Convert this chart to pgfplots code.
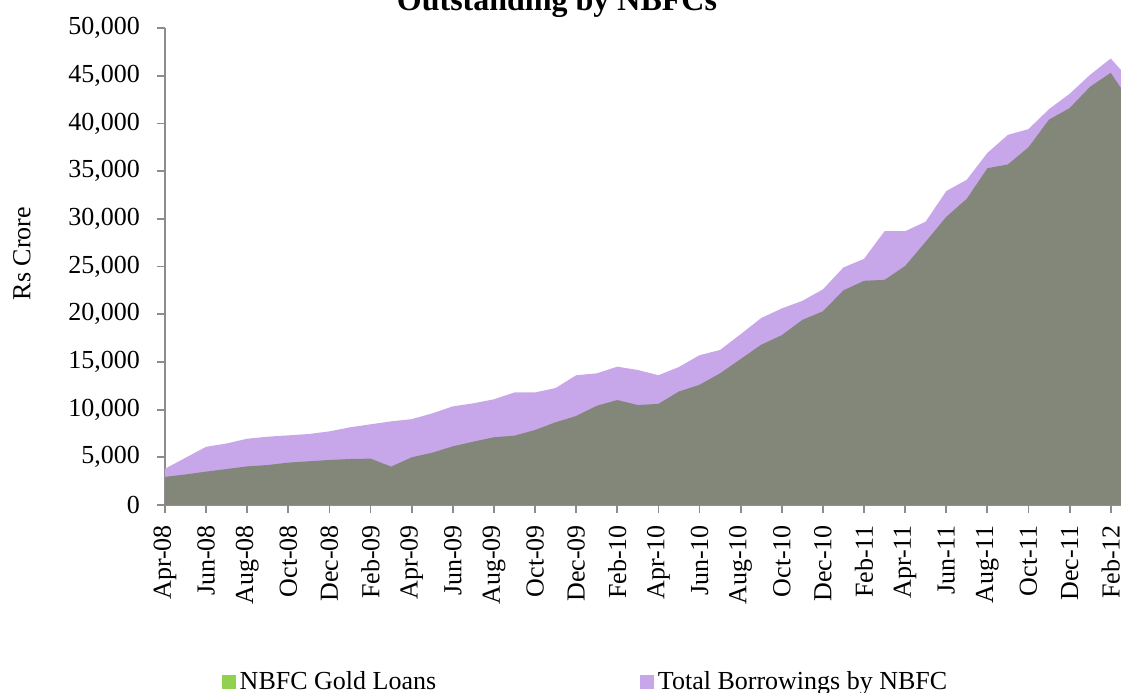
\documentclass[border=0pt]{standalone}
\usepackage{fontspec}
\setmainfont{Liberation Serif}
\usepackage{pgfplots}
\pgfplotsset{compat=1.18}
\definecolor{borrowpurple}{HTML}{C8A6EA}
\definecolor{goldgray}{HTML}{828779}
\definecolor{goldgreen}{HTML}{92D050}
\definecolor{axisgray}{HTML}{8C8C8C}
\begin{document}
\begin{tikzpicture}
\useasboundingbox (0,0) rectangle (560.5pt,346pt);
\clip (0,0) rectangle (560.5pt,346pt);
\begin{axis}[
  at={(82.5pt,93.5pt)}, anchor=south west,
  scale only axis, width=478pt, height=238.5pt,
  xmin=0, xmax=46.5, ymin=0, ymax=50000,
  axis lines=left, axis line style={-, draw=axisgray, line width=0.9pt},
  tick style={draw=axisgray, line width=0.9pt},
  tick align=outside, major tick length=4pt,
  xtick={0,2,...,46},
  xticklabels={Apr-08,Jun-08,Aug-08,Oct-08,Dec-08,Feb-09,Apr-09,Jun-09,Aug-09,Oct-09,Dec-09,Feb-10,Apr-10,Jun-10,Aug-10,Oct-10,Dec-10,Feb-11,Apr-11,Jun-11,Aug-11,Oct-11,Dec-11,Feb-12},
  xticklabel style={rotate=90, anchor=east, inner ysep=0pt, font=\fontsize{13}{15}\selectfont},
  xticklabel shift=2.5pt,
  ytick={0,5000,...,50000},
  scaled y ticks=false,
  yticklabel style={font=\fontsize{13}{15}\selectfont, /pgf/number format/.cd, 1000 sep={,}, assume math mode=true},
  yticklabel shift=5pt,
  ylabel={Rs Crore},
  ylabel style={at={(axis description cs:-0.1496,0.527)}, anchor=center, font=\fontsize{13}{15}\selectfont},
  title={Outstanding by NBFCs},
  title style={at={(axis description cs:0.41,1.012)}, anchor=base, font=\bfseries\fontsize{16}{19}\selectfont},
  legend columns=2,
  legend style={at={(axis description cs:0.441,-0.37)}, anchor=center, draw=none, fill=none,
    font=\fontsize{13}{15}\selectfont, /tikz/every even column/.append style={column sep=100pt}},
  clip=true,
]
\addlegendimage{legend image code/.code={\fill[goldgreen] (-1.5pt,-3.25pt) rectangle (5pt,3.25pt);}}
\addlegendentry{NBFC Gold Loans}
\addlegendimage{legend image code/.code={\fill[borrowpurple] (-1.5pt,-3.25pt) rectangle (5pt,3.25pt);}}
\addlegendentry{Total Borrowings by NBFC}
\addplot[fill=borrowpurple, draw=none, forget plot] coordinates {
(0,3800) (1,4950) (2,6100) (3,6450) (4,6950) (5,7160) (6,7300) (7,7440) (8,7720) (9,8140)
(10,8460) (11,8770) (12,9000) (13,9600) (14,10340) (15,10660) (16,11080) (17,11800) (18,11800) (19,12260)
(20,13600) (21,13800) (22,14500) (23,14150) (24,13600) (25,14470) (26,15700) (27,16250) (28,17900) (29,19600)
(30,20600) (31,21400) (32,22600) (33,24900) (34,25800) (35,28700) (36,28700) (37,29700) (38,32900) (39,34100)
(40,36900) (41,38800) (42,39400) (43,41500) (44,43100) (45,45100) (46,46800) (47,44400)
} \closedcycle;
\addplot[fill=goldgray, draw=none, forget plot] coordinates {
(0,2950) (1,3200) (2,3500) (3,3770) (4,4050) (5,4190) (6,4440) (7,4580) (8,4720) (9,4820)
(10,4860) (11,4020) (12,5000) (13,5480) (14,6150) (15,6640) (16,7100) (17,7270) (18,7860) (19,8670)
(20,9330) (21,10400) (22,11000) (23,10480) (24,10600) (25,11900) (26,12600) (27,13800) (28,15300) (29,16800)
(30,17800) (31,19400) (32,20300) (33,22500) (34,23500) (35,23600) (36,25050) (37,27600) (38,30200) (39,32100)
(40,35300) (41,35700) (42,37500) (43,40400) (44,41600) (45,43850) (46,45300) (47,42100)
} \closedcycle;
\end{axis}
\end{tikzpicture}
\end{document}
